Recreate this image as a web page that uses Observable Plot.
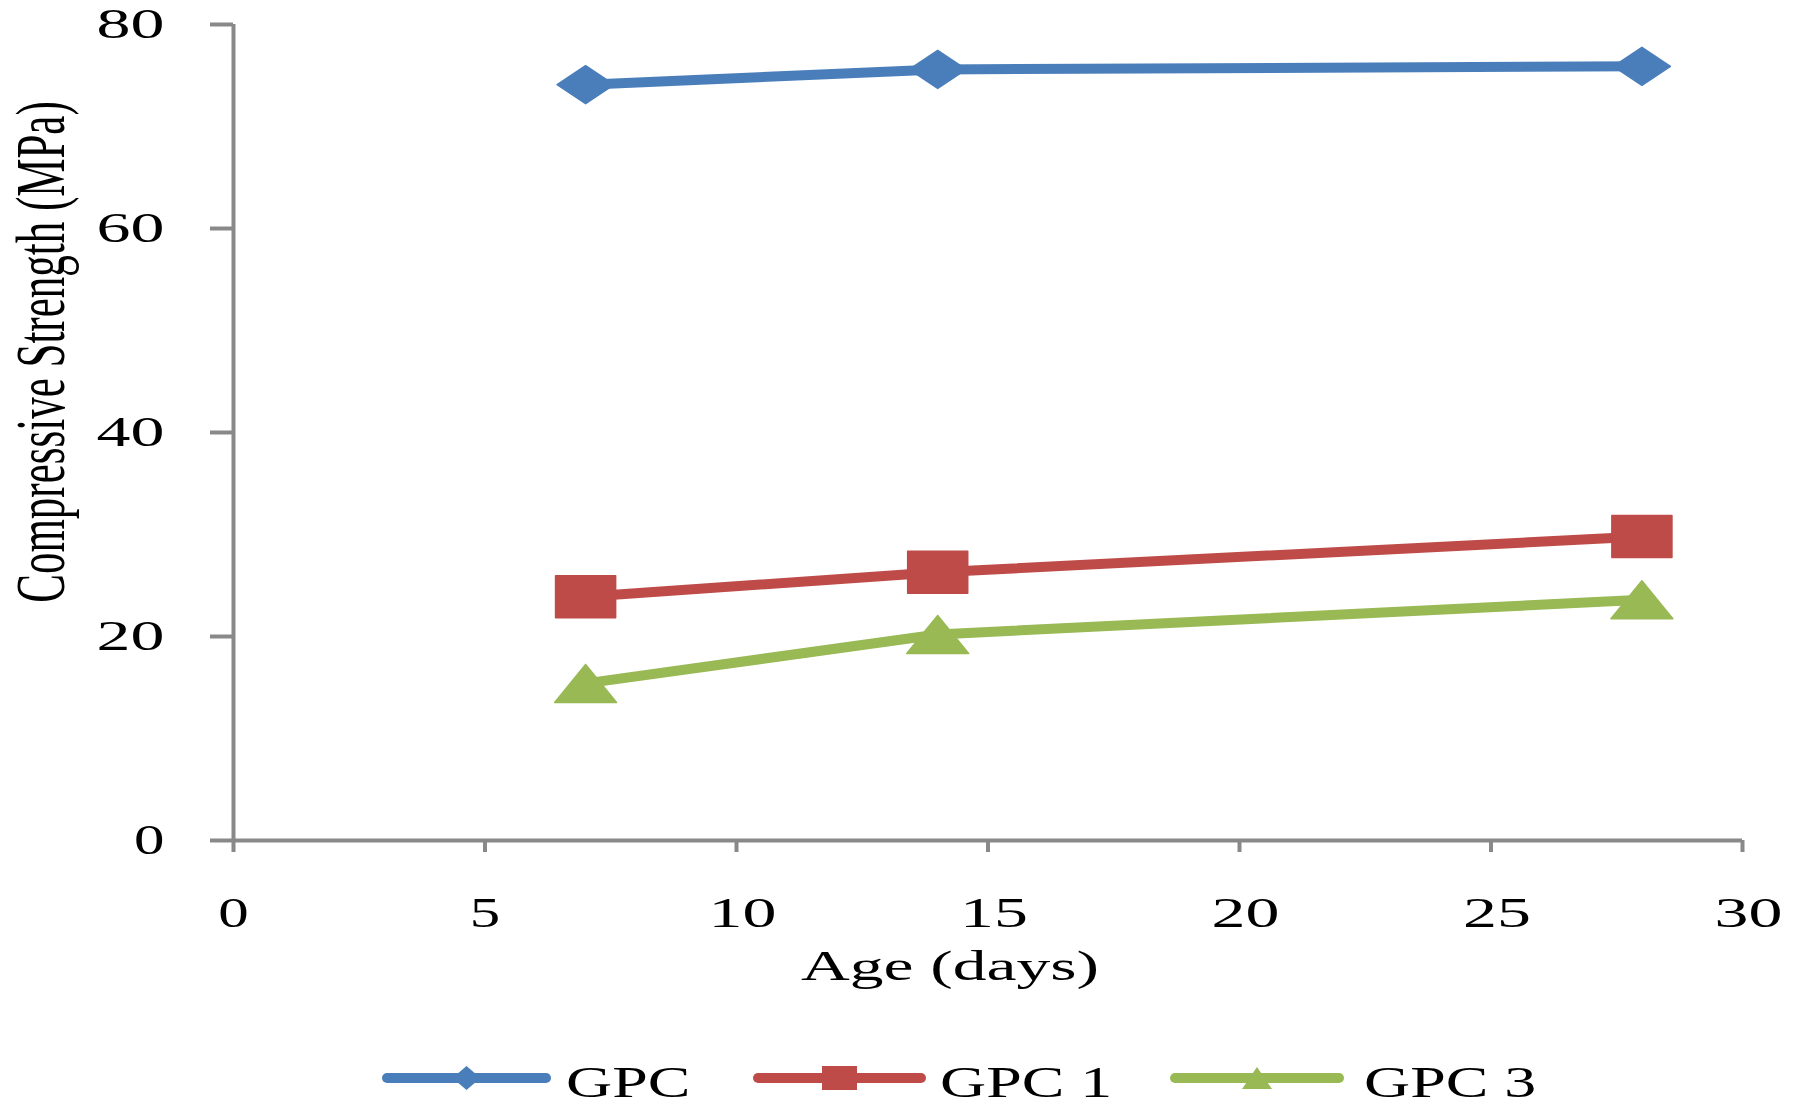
<!DOCTYPE html>
<html><head><meta charset="utf-8">
<script src="https://cdn.jsdelivr.net/npm/d3@7"></script>
<script src="https://cdn.jsdelivr.net/npm/@observablehq/plot@0.6"></script>
<style>
html,body{margin:0;padding:0;background:#fff;}
#wrap{width:1812px;height:1108px;position:relative;overflow:hidden;background:#fff;}
svg{display:block;}
</style></head><body><div id="wrap"></div>
<script>
const ages = [7, 14, 28];
const seriesNames = ["GPC", "GPC 1", "GPC 3"];
const gpc = [74.1, 75.6, 75.9];
const gpc1 = [23.9, 26.3, 29.8];
const gpc3 = [15.4, 20.2, 23.6];
const xTicks = [0, 5, 10, 15, 20, 25, 30];
const yTicks = [0, 20, 40, 60, 80];
const xTitle = "Age (days)";
const yTitle = "Compressive Strength (MPa)";
const colors = ["#4A7EBB", "#BE4B48", "#98B954"];

const data = [];
[gpc, gpc1, gpc3].forEach((vals, i) => vals.forEach((v, j) => data.push({series: seriesNames[i], age: ages[j], value: v})));

const sym = {
  diamond: {draw(c, s) { const r = Math.sqrt(s / Math.PI), w = r * 1.5; c.moveTo(-w, 0); c.lineTo(0, -r); c.lineTo(w, 0); c.lineTo(0, r); c.closePath(); }},
  square: {draw(c, s) { const r = Math.sqrt(s / Math.PI), w = r * 1.43; c.moveTo(-w, -r); c.lineTo(w, -r); c.lineTo(w, r); c.lineTo(-w, r); c.closePath(); }},
  triangle: {draw(c, s) { const r = Math.sqrt(s / Math.PI), w = r * 1.63; c.moveTo(0, -r); c.lineTo(w, r); c.lineTo(-w, r); c.closePath(); }}
};
const symList = [sym.diamond, sym.square, sym.triangle];
const rList = [19, 21, 19];
const axisGray = "#898989";
const SX = 1.45;

const plot = Plot.plot({
  width: 1812,
  height: 1010,
  marginLeft: 233,
  marginRight: 70,
  marginTop: 24,
  marginBottom: 170,
  style: {fontFamily: "'Liberation Serif', serif", fontSize: "42px", background: "#fff", color: "#000"},
  x: {domain: [0, 30], label: null},
  y: {domain: [0, 80], label: null},
  color: {domain: seriesNames, range: colors},
  marks: [
    Plot.axisY({ticks: yTicks, tickSize: 23, tickPadding: 46, stroke: axisGray, strokeWidth: 4, fill: "#000", label: null}),
    Plot.axisX({ticks: xTicks, tickSize: 12, tickPadding: 45, stroke: axisGray, strokeWidth: 4, fill: "#000", label: null}),
    Plot.ruleX([0], {stroke: axisGray, strokeWidth: 4}),
    Plot.ruleY([0], {stroke: axisGray, strokeWidth: 4}),
    Plot.line(data, {x: "age", y: "value", z: "series", stroke: "series", strokeWidth: 10, strokeLinejoin: "round"}),
    ...seriesNames.map((name, i) => Plot.dot(data.filter(d => d.series === name), {
      x: "age", y: "value", symbol: symList[i], r: rList[i], fill: colors[i], stroke: colors[i], strokeWidth: 1.5, strokeLinejoin: "round"
    }))
  ]
});

const wrap = document.getElementById("wrap");
wrap.append(plot);
const svg = d3.select(plot);
function stretchTicks(sel, shift) {
  sel.each(function () {
    const n = this.textContent.length;
    const w = this.getComputedTextLength();
    this.setAttribute("textLength", w * SX + (n - 1) * 7);
    this.setAttribute("lengthAdjust", "spacingAndGlyphs");
    if (shift && n > 1) this.setAttribute("dx", 6 * (n - 1));
  });
}
stretchTicks(svg.selectAll("g[aria-label='x-axis tick label'] text"), true);
stretchTicks(svg.selectAll("g[aria-label='y-axis tick label'] text"), false);
// axis titles
const xt = svg.append("text").attr("x", 950).attr("y", 980).attr("text-anchor", "middle")
  .attr("font-size", 43).attr("fill", "#000").text(xTitle);
xt.attr("textLength", xt.node().getComputedTextLength() * 1.57).attr("lengthAdjust", "spacingAndGlyphs");
svg.append("text").attr("transform", `translate(41,352) scale(1.62,1) rotate(-90)`)
  .attr("text-anchor", "middle").attr("dominant-baseline", "central")
  .attr("font-size", 43).attr("fill", "#000").text(yTitle);

// legend
const leg = d3.select(wrap).append("svg").attr("width", 1812).attr("height", 98)
  .style("font-family", "'Liberation Serif', serif");
const legLine = [[382, 551], [753, 926], [1170, 1344]];
const legText = [566, 940, 1364];
const legSym = [
  p => `M${p - 14},0L${p},-12L${p + 14},0L${p},12Z`,
  p => `M${p - 17.5},-12H${p + 17.5}V12H${p - 17.5}Z`,
  p => `M${p},-11L${p + 15},11H${p - 15}Z`
];
seriesNames.forEach((name, i) => {
  const g = leg.append("g").attr("transform", "translate(0,68)");
  const [a, b] = legLine[i];
  g.append("line").attr("x1", a + 5).attr("x2", b - 5).attr("stroke", colors[i]).attr("stroke-width", 10).attr("stroke-linecap", "round");
  g.append("path").attr("d", legSym[i]((a + b) / 2)).attr("fill", colors[i]);
  const t = g.append("text").attr("x", legText[i]).attr("y", 19).attr("font-size", 45).attr("fill", "#000").text(name);
  t.attr("textLength", t.node().getComputedTextLength() * 1.42).attr("lengthAdjust", "spacingAndGlyphs");
});
</script></body></html>
